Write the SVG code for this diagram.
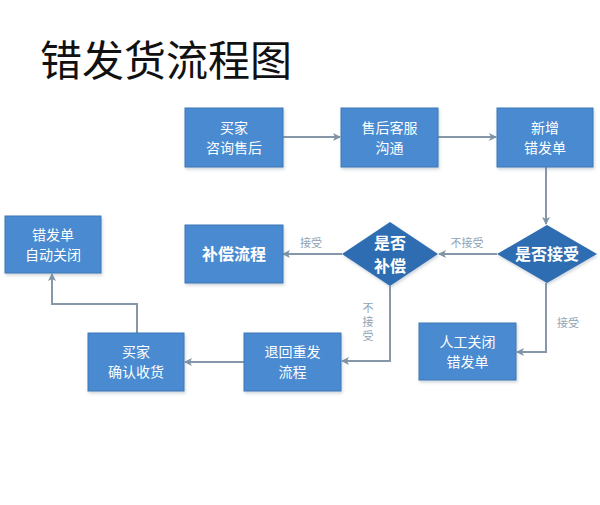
<svg xmlns="http://www.w3.org/2000/svg" width="600" height="505" viewBox="0 0 600 505">
<defs>
<marker id="arr" markerWidth="8" markerHeight="8" refX="7" refY="4" orient="auto" markerUnits="userSpaceOnUse">
<path d="M0,0 L8,4 L0,8 L2,4 Z" fill="#7f93a6"/>
</marker>
<filter id="sh" x="-10%" y="-10%" width="130%" height="130%">
<feDropShadow dx="1" dy="2" stdDeviation="1.5" flood-color="#7a8a9a" flood-opacity="0.35"/>
</filter>
</defs>
<style>
.box{fill:#4a8ad0;stroke:#3d78b6;stroke-width:1;filter:url(#sh)}
.dia{fill:#2f6db1;filter:url(#sh)}
.t{font-family:"Noto Sans CJK SC","Noto Sans",sans-serif;fill:#fff;font-size:14px;text-anchor:middle}
.tb{font-family:"Noto Sans CJK SC","Noto Sans",sans-serif;fill:#fff;font-size:16px;font-weight:bold;text-anchor:middle}
.c{fill:none;stroke:#8597a8;stroke-width:2;marker-end:url(#arr)}
.lb{font-family:"Noto Sans CJK SC","Noto Sans",sans-serif;fill:#8fa3b6;font-size:11px;text-anchor:middle}
.lbv{font-family:"Noto Sans CJK SC","Noto Sans",sans-serif;fill:#8fa3b6;font-size:11px;writing-mode:vertical-rl;letter-spacing:3px}
.title{font-family:"Noto Sans CJK SC","Noto Sans",sans-serif;fill:#111;font-size:42px}
</style>
<rect width="600" height="505" fill="#fff"/>
<text class="title" x="40" y="76">错发货流程图</text>

<g id="connectors">
<path class="c" d="M283,137 L340,137"/>
<path class="c" d="M438,137 L496,137"/>
<path class="c" d="M546,167 L546,224"/>
<path class="c" d="M497,254 L439,254"/>
<path class="c" d="M342,254 L283,254"/>
<path class="c" d="M390,286 L390,361 L342,361"/>
<path class="c" d="M546,283 L546,352 L517,352"/>
<path class="c" d="M244,362 L185,362"/>
<path class="c" d="M137,333 L137,304 L52,304 L52,274"/>
<text class="lb" x="467" y="247">不接受</text>
<text class="lb" x="311" y="247">接受</text>
<text class="lb" x="568" y="327">接受</text>
<text class="lbv" x="368" y="302">不接受</text>
</g>

<g id="n1"><rect class="box" x="185" y="108" width="98" height="59"/>
<text class="t" x="234" y="133">买家</text><text class="t" x="234" y="153">咨询售后</text></g>
<g id="n2"><rect class="box" x="341" y="108" width="97" height="59"/>
<text class="t" x="389.5" y="133">售后客服</text><text class="t" x="389.5" y="153">沟通</text></g>
<g id="n3"><rect class="box" x="497" y="108" width="96" height="59"/>
<text class="t" x="545" y="133">新增</text><text class="t" x="545" y="153">错发单</text></g>
<g id="d1"><polygon class="dia" points="547,225 597,254 547,283 497,254"/>
<text class="tb" x="547" y="260">是否接受</text></g>
<g id="d2"><polygon class="dia" points="390,222 438,254 390,286 342,254"/>
<text class="tb" x="390" y="249">是否</text><text class="tb" x="390" y="272">补偿</text></g>
<g id="n4"><rect class="box" x="185" y="225" width="98" height="58"/>
<text class="tb" x="234" y="260">补偿流程</text></g>
<g id="n5"><rect class="box" x="5" y="216" width="96" height="57"/>
<text class="t" x="53" y="240">错发单</text><text class="t" x="53" y="260">自动关闭</text></g>
<g id="n6"><rect class="box" x="88" y="333" width="96" height="58"/>
<text class="t" x="136" y="357">买家</text><text class="t" x="136" y="377">确认收货</text></g>
<g id="n7"><rect class="box" x="244" y="333" width="97" height="58"/>
<text class="t" x="292.5" y="357">退回重发</text><text class="t" x="292.5" y="377">流程</text></g>
<g id="n8"><rect class="box" x="419" y="323" width="97" height="57"/>
<text class="t" x="467.5" y="347">人工关闭</text><text class="t" x="467.5" y="367">错发单</text></g>
</svg>
